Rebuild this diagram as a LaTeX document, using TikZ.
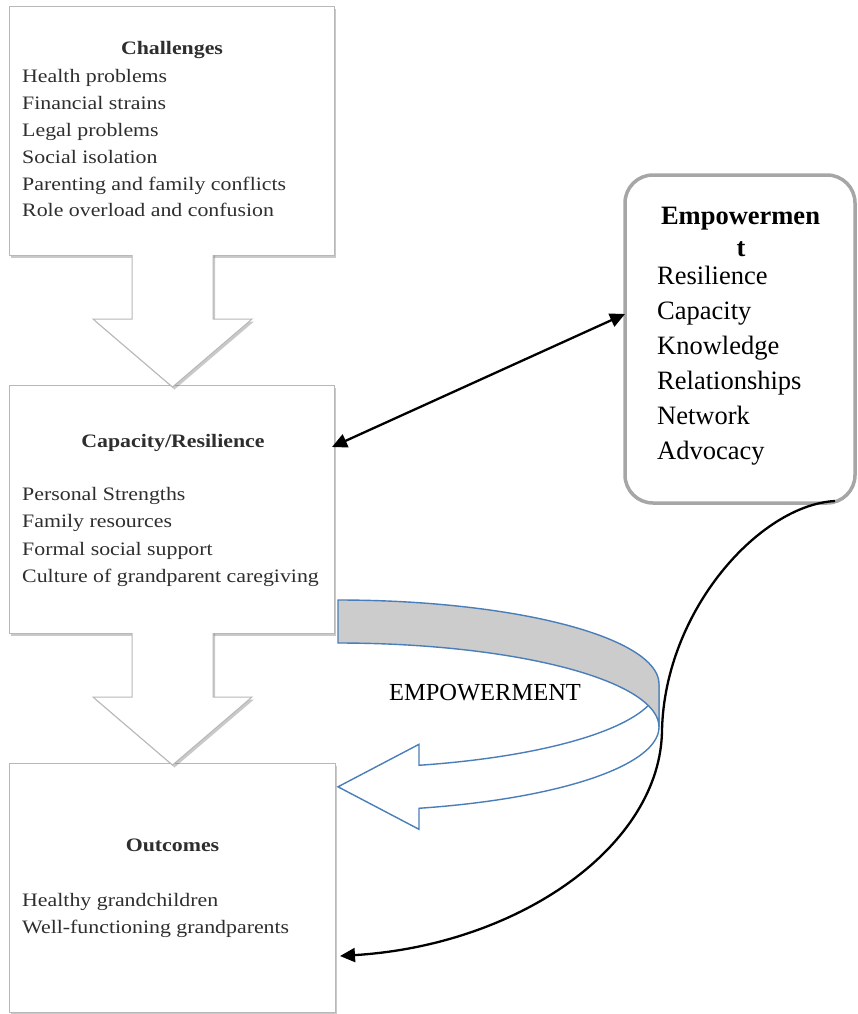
\documentclass[tikz,border=0pt]{standalone}
\usepackage{fontspec}
\setmainfont{Liberation Serif}
\newfontfamily\boxfont[FakeStretch=1.15]{Liberation Serif}
\usetikzlibrary{arrows.meta,shadows,calc}
\definecolor{bordergray}{HTML}{B8B8B8}
\definecolor{empgray}{HTML}{A6A6A6}
\definecolor{wblue}{HTML}{4A7EBB}
\definecolor{bandgray}{HTML}{CCCCCC}
\definecolor{txtgray}{HTML}{2E2E2E}
\tikzset{
  softshadow/.style={drop shadow={shadow xshift=2pt, shadow yshift=-2.5pt, opacity=0.35, fill=black!60}},
  box/.style={draw=bordergray, line width=1pt, fill=white, rectangle, inner sep=0pt, softshadow},
  blockfill/.style={fill=white, softshadow},
  blockline/.style={draw=bordergray, line width=1pt, line join=miter},
  boxtxt/.style={font=\boxfont\fontsize{19}{23}\selectfont, text=txtgray, inner sep=0pt},
  boxttl/.style={font=\boxfont\bfseries\fontsize{19}{23}\selectfont, text=txtgray, inner sep=0pt},
  empbox/.style={draw=empgray, line width=3.5pt, fill=white, rounded corners=28pt, rectangle, inner sep=0pt},
  emptxt/.style={font=\fontsize{26.5}{30}\selectfont, inner sep=0pt},
  empttl/.style={font=\bfseries\fontsize{26.5}{30}\selectfont, inner sep=0pt},
  bandline/.style={draw=wblue, line width=1.4pt, line join=miter},
  conn/.style={line width=2.3pt, -{Triangle[length=15pt,width=14pt]}},
  dconn/.style={line width=2.3pt, {Triangle[length=15pt,width=14pt]}-{Triangle[length=15pt,width=14pt]}}
}
\begin{document}
\begin{tikzpicture}[x=1pt,y=-1pt]
\useasboundingbox (0,0) rectangle (858,1014);
\fill[white] (0,0) rectangle (858,1014);

% boxes
\node[box, minimum width=325pt, minimum height=248pt] (chal) at (171.5,131) {};
\node[box, minimum width=325pt, minimum height=248pt] (cap) at (171.5,509) {};
\node[box, minimum width=326pt, minimum height=249pt] (out) at (172,887.5) {};

% block arrows
\fill[blockfill] (132,253) -- (132,319) -- (93,319) -- (172.5,387) -- (252,319) -- (213,319) -- (213,253) -- cycle;
\draw[blockline] (132,255) -- (132,319) -- (93,319) -- (172.5,387) -- (252,319) -- (213,319) -- (213,255);
\fill[blockfill] (132,631) -- (132,697) -- (93,697) -- (172.5,765) -- (252,697) -- (213,697) -- (213,631) -- cycle;
\draw[blockline] (132,633) -- (132,697) -- (93,697) -- (172.5,765) -- (252,697) -- (213,697) -- (213,633);

% box texts
\node[boxttl, anchor=base] (chalT) at (172,55) {Challenges};
\node[boxtxt, anchor=base west] (ch1) at (22,82.7) {Health problems};
\node[boxtxt, anchor=base west] (ch2) at (22,109.5) {Financial strains};
\node[boxtxt, anchor=base west] (ch3) at (22,136.3) {Legal problems};
\node[boxtxt, anchor=base west] (ch4) at (22,163.1) {Social isolation};
\node[boxtxt, anchor=base west] (ch5) at (22,190) {Parenting and family conflicts};
\node[boxtxt, anchor=base west] (ch6) at (22,216.8) {Role overload and confusion};

\node[boxttl, anchor=base] (capT) at (173,447) {Capacity/Resilience};
\node[boxtxt, anchor=base west] (cp1) at (22,500.7) {Personal Strengths};
\node[boxtxt, anchor=base west] (cp2) at (22,527.7) {Family resources};
\node[boxtxt, anchor=base west] (cp3) at (22,555) {Formal social support};
\node[boxtxt, anchor=base west] (cp4) at (22,582.7) {Culture of grandparent caregiving};

\node[boxttl, anchor=base] (outT) at (172.5,851.7) {Outcomes};
\node[boxtxt, anchor=base west] (ou1) at (22,906.7) {Healthy grandchildren};
\node[boxtxt, anchor=base west] (ou2) at (22,933.3) {Well-functioning grandparents};

% empowerment box
\node[empbox, minimum width=230pt, minimum height=328pt] (emp) at (740,339) {};
\node[empttl, anchor=base] (et1) at (740.5,224) {Empowermen};
\node[empttl, anchor=base] (et2) at (741,256) {t};
\node[emptxt, anchor=base west] (e1) at (657,284.5) {Resilience};
\node[emptxt, anchor=base west] (e2) at (657,319.5) {Capacity};
\node[emptxt, anchor=base west] (e3) at (657,354.5) {Knowledge};
\node[emptxt, anchor=base west] (e4) at (657,389.5) {Relationships};
\node[emptxt, anchor=base west] (e5) at (657,424.5) {Network};
\node[emptxt, anchor=base west] (e6) at (657,459.5) {Advocacy};

% curved left arrow (front face)
\path[bandline, fill=white]
  plot[domain=0:75.38, samples=50] ({338+321*cos(\x)},{684+84*sin(\x)})
  -- (419,744.3) -- (338,786.8) -- (419,829.3)
  -- plot[domain=75.38:0, samples=50] ({338+321*cos(\x)},{727+84*sin(\x)})
  -- cycle;
% back band (gray)
\path[bandline, fill=bandgray]
  plot[domain=-90:0, samples=50] ({338+321*cos(\x)},{684+84*sin(\x)})
  -- plot[domain=0:-90, samples=50] ({338+321*cos(\x)},{727+84*sin(\x)})
  -- cycle;
\node[font=\fontsize{24.5}{28}\selectfont, inner sep=0pt, anchor=base] (emplabel) at (485,700) {EMPOWERMENT};

% connectors
\coordinate (capR) at (332,447);
\coordinate (empL) at (625,314);
\draw[dconn] (capR) -- (empL);
\coordinate (cs) at (835,501);
\coordinate (ce) at (340,956);
\draw[conn] (cs) .. controls (760,505) and (665,610) .. (662,730)
  .. controls (661,845) and (520,945) .. (ce);
\end{tikzpicture}
\end{document}
